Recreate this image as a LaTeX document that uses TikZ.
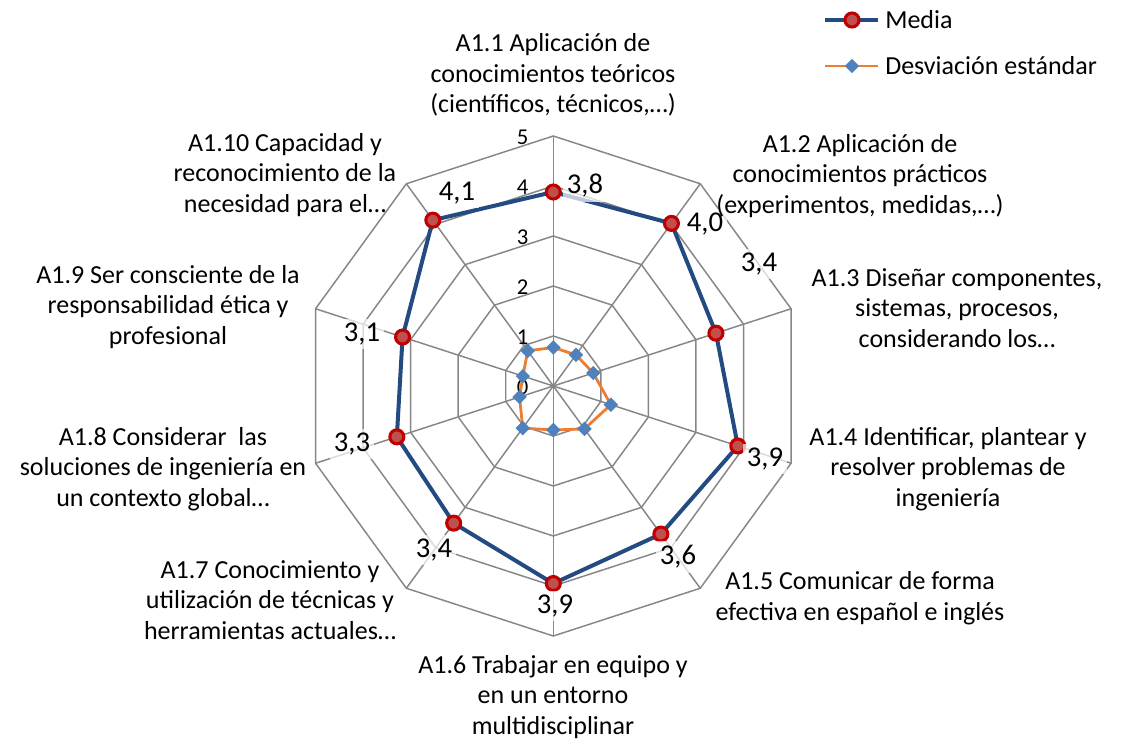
\documentclass[tikz,border=0pt]{standalone}
\usepackage{fontspec}
\setmainfont{Carlito}
\usetikzlibrary{shapes.geometric}
\definecolor{gridgray}{HTML}{868686}
\definecolor{medblue}{HTML}{234B81}
\definecolor{mkred}{HTML}{C00000}
\definecolor{mkfill}{HTML}{C0504D}
\definecolor{sdorange}{HTML}{ED7D31}
\definecolor{sdblue}{HTML}{4F81BD}
\begin{document}
\begin{tikzpicture}[x=0.75pt,y=-0.75pt,
  gridline/.style={draw=gridgray,line width=1.1pt},
  medline/.style={draw=medblue,line width=3pt,line join=round},
  sdline/.style={draw=sdorange,line width=2.1pt,line join=round},
  medmark/.style={circle,draw=mkred,fill=mkfill,line width=2.3pt,minimum size=10.5pt,inner sep=0pt},
  sdmark/.style={diamond,fill=sdblue,minimum size=11pt,inner sep=0pt},
  catlabel/.style={align=center,font=\fontsize{19.5}{23}\selectfont,inner sep=0pt},
  datalabel/.style={fill=white,fill opacity=0.7,text opacity=1,font=\fontsize{21.5}{25}\selectfont,inner sep=3pt},
  ticklabel/.style={font=\fontsize{17}{20}\selectfont,inner sep=0pt},
  legtext/.style={anchor=west,font=\fontsize{19.5}{23}\selectfont,inner sep=0pt}]
\useasboundingbox (0,0) rectangle (1121,746);
\def\cx{553.3}\def\cy{386}
% grid
\foreach \l in {1,...,5}{
  \draw[gridline] ({\cx},{\cy-50*\l})
    \foreach \k in {1,...,9}{ -- ({\cx+50*\l*cos(90-36*\k)},{\cy-50*\l*sin(90-36*\k)}) } -- cycle;
}
\coordinate (C) at (\cx,\cy);
\foreach \k in {0,...,9}{
  \coordinate (o\k) at ({\cx+250*cos(90-36*\k)},{\cy-250*sin(90-36*\k)});
  \draw[gridline] (C) -- (o\k);
}
% tick labels
\foreach \l in {0,...,5}{
  \node[ticklabel] (t\l) at ({\cx-30.6},{\cy-50*\l+1}) {\l};
}
% data coordinates
\foreach \v [count=\i from 0] in {3.88,4.02,3.42,3.88,3.66,3.95,3.39,3.29,3.17,4.10}{
  \coordinate (m\i) at ({\cx+50*\v*cos(90-36*\i)},{\cy-50*\v*sin(90-36*\i)});
}
\foreach \v [count=\i from 0] in {0.77,0.77,0.84,1.21,1.06,0.88,1.04,0.71,0.64,0.87}{
  \coordinate (s\i) at ({\cx+50*\v*cos(90-36*\i)},{\cy-50*\v*sin(90-36*\i)});
}
% series
\draw[sdline] (s0) -- (s1) -- (s2) -- (s3) -- (s4) -- (s5) -- (s6) -- (s7) -- (s8) -- (s9) -- cycle;
\foreach \i in {0,...,9}{ \node[sdmark] (sd\i) at (s\i) {}; }
\draw[medline] (m0) -- (m1) -- (m2) -- (m3) -- (m4) -- (m5) -- (m6) -- (m7) -- (m8) -- (m9) -- cycle;
\foreach \i in {0,...,9}{ \node[medmark] (md\i) at (m\i) {}; }
% data labels
\node[datalabel] (d0) at (585,186) {3,8};
\node[datalabel] (d1) at (705,224) {4,0};
\node[datalabel] (d2) at (759,264) {3,4};
\node[datalabel] (d3) at (765,459) {3,9};
\node[datalabel] (d4) at (678,557) {3,6};
\node[datalabel] (d5) at (555,606) {3,9};
\node[datalabel] (d6) at (434,550) {3,4};
\node[datalabel] (d7) at (352,444) {3,3};
\node[datalabel] (d8) at (362,334) {3,1};
\node[datalabel] (d9) at (457,193) {4,1};
% category labels
\node[catlabel] (c1) at (553,75) {A1.1 Aplicación de\\conocimientos teóricos\\(científicos, técnicos,…)};
\node[catlabel] (c2) at (860,176) {A1.2 Aplicación de\\conocimientos prácticos\\(experimentos, medidas,…)};
\node[catlabel] (c3) at (957,308) {A1.3 Diseñar componentes,\\sistemas, procesos,\\considerando los…};
\node[catlabel] (c4) at (948,469) {A1.4 Identificar, plantear y\\resolver problemas de\\ingeniería};
\node[catlabel] (c5) at (860,598) {A1.5 Comunicar de forma\\efectiva en español e inglés};
\node[catlabel] (c6) at (553,697) {A1.6 Trabajar en equipo y\\en un entorno\\multidisciplinar};
\node[catlabel] (c7) at (270,600) {A1.7 Conocimiento y\\utilización de técnicas y\\herramientas actuales…};
\node[catlabel] (c8) at (163,469) {A1.8 Considerar\ \ las\\soluciones de ingeniería en\\un contexto global…};
\node[catlabel] (c9) at (168,307) {A1.9 Ser consciente de la\\responsabilidad ética y\\profesional};
\node[catlabel] (c10) at (285,175) {A1.10 Capacidad y\\reconocimiento de la\\necesidad para el…};
% legend
\coordinate (la) at (825,20); \coordinate (lb) at (878,20);
\draw[medline] (la) -- (lb);
\node[medmark] (lm) at (852,20) {};
\node[legtext] (lt1) at (885,20) {Media};
\coordinate (lc) at (825,66); \coordinate (ld) at (878,66);
\draw[sdline] (lc) -- (ld);
\node[sdmark] (ls) at (852,66) {};
\node[legtext] (lt2) at (885,66) {Desviación estándar};
\end{tikzpicture}
\end{document}
